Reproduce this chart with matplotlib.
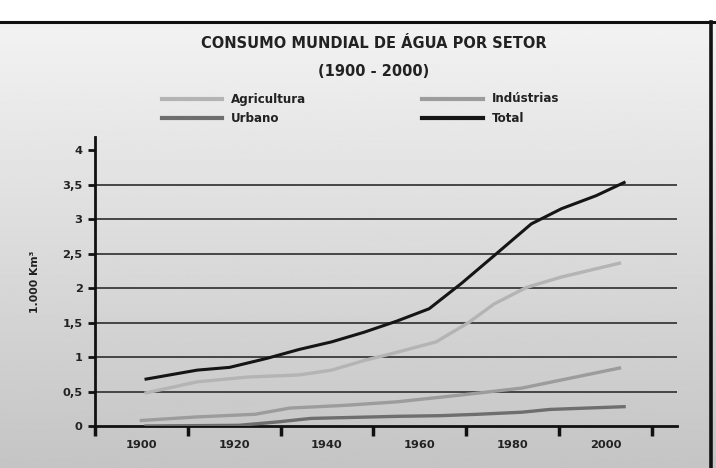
import numpy as np
import matplotlib
matplotlib.use("Agg")
import matplotlib.pyplot as plt
from matplotlib.lines import Line2D

# traced values (1.000 km3), x in years
agri_years = [1901, 1912, 1923, 1934, 1941, 1948, 1954, 1963.5, 1970.5, 1976, 1983, 1990.5, 2003]
agri_vals = [0.48, 0.64, 0.71, 0.74, 0.81, 0.95, 1.05, 1.22, 1.50, 1.77, 2.01, 2.16, 2.36]

ind_years = [1900, 1911.5, 1924.5, 1932, 1944, 1955, 1969, 1982, 2003]
ind_vals = [0.08, 0.13, 0.17, 0.26, 0.30, 0.35, 0.45, 0.55, 0.84]

urb_years = [1901, 1921, 1929.5, 1936.5, 1955, 1964.5, 1972.5, 1982, 1988, 2004]
urb_vals = [0.0, 0.01, 0.06, 0.11, 0.14, 0.15, 0.17, 0.20, 0.24, 0.28]

tot_years = [1901, 1912, 1919, 1927, 1934, 1941, 1948, 1955, 1962, 1969, 1976, 1984, 1990.5, 1998, 2004]
tot_vals = [0.68, 0.81, 0.85, 0.98, 1.11, 1.22, 1.36, 1.52, 1.70, 2.07, 2.47, 2.93, 3.15, 3.34, 3.53]

year_labels = [1900, 1920, 1940, 1960, 1980, 2000]
tick_years = [1890, 1910, 1930, 1950, 1970, 1990, 2010]
y_ticks = [0, 0.5, 1, 1.5, 2, 2.5, 3, 3.5, 4]
y_tick_labels = ["0", "0,5", "1", "1,5", "2", "2,5", "3", "3,5", "4"]
grid_vals = [0.5, 1, 1.5, 2, 2.5, 3, 3.5]

C_AGRI = "#b4b4b4"
C_IND = "#9c9c9c"
C_URB = "#6e6e6e"
C_TOT = "#151515"

plt.rcParams["font.family"] = ["DejaVu Sans"]

fig = plt.figure(figsize=(7.16, 4.68), dpi=100)
fig.patch.set_facecolor("white")

# background gradient panel below the top rule
bg = fig.add_axes([0, 0, 1, 1 - 22 / 468], zorder=-10)
grad = np.linspace(0.95, 0.77, 256).reshape(-1, 1)
bg.imshow(grad, cmap="gray", vmin=0, vmax=1, aspect="auto",
          extent=[0, 1, 0, 1])
bg.set_xlim(0, 1); bg.set_ylim(0, 1)
bg.axis("off")

# frame: top rule and right rule
fig.add_artist(Line2D([0, 1], [1 - 22 / 468] * 2, color="#111111", lw=2.2,
                      transform=fig.transFigure))
fig.add_artist(Line2D([711 / 716] * 2, [0, 1 - 22 / 468], color="#111111", lw=2.6,
                      transform=fig.transFigure))

ax = fig.add_axes([95 / 716, 1 - 426 / 468, (677 - 95) / 716, 289 / 468])
ax.patch.set_alpha(0)

for g in grid_vals:
    ax.axhline(g, color="#3a3a3a", lw=1.3, zorder=1)

ax.plot(agri_years, agri_vals, color=C_AGRI, lw=2.4, zorder=3)
ax.plot(ind_years, ind_vals, color=C_IND, lw=2.4, zorder=3)
ax.plot(urb_years, urb_vals, color=C_URB, lw=2.4, zorder=3)
ax.plot(tot_years, tot_vals, color=C_TOT, lw=2.2, zorder=4)

ax.set_xlim(1890, 2015.4)
ax.set_ylim(0, 4.19)

ax.set_xticks(tick_years)
ax.set_xticklabels([])
ax.set_xticks(year_labels, minor=True)
ax.set_xticklabels([str(y) for y in year_labels], minor=True,
                   fontsize=8.2, fontweight="bold", color="#222222")
ax.tick_params(axis="x", which="major", direction="out", length=7, width=2.5,
               color="#111111")
ax.tick_params(axis="x", which="minor", length=0, pad=10)

ax.set_yticks(y_ticks)
ax.set_yticklabels(y_tick_labels, fontsize=8.2, fontweight="bold", color="#222222")
ax.tick_params(axis="y", direction="out", length=5, width=2, color="#111111", pad=4)

for s in ["top", "right"]:
    ax.spines[s].set_visible(False)
for s in ["left", "bottom"]:
    ax.spines[s].set_color("#111111")
    ax.spines[s].set_linewidth(2)

ax.set_ylabel("1.000 Km³", fontsize=7.8, fontweight="bold", color="#222222",
              labelpad=16)

fig.text(374 / 716, 1 - 43 / 468, "CONSUMO MUNDIAL DE ÁGUA POR SETOR",
         ha="center", va="center", fontsize=10.5, fontweight="bold", color="#222222")
fig.text(374 / 716, 1 - 71 / 468, "(1900 - 2000)",
         ha="center", va="center", fontsize=10.5, fontweight="bold", color="#222222")

# legend drawn by hand in two columns
legend_items = [
    ("Agricultura", C_AGRI, 162, 222, 231, 99),
    ("Urbano", C_URB, 162, 222, 231, 118),
    ("Indústrias", C_IND, 422, 483, 492, 99),
    ("Total", C_TOT, 422, 483, 492, 118),
]
for name, col, x0, x1, xt, yy in legend_items:
    fig.add_artist(Line2D([x0 / 716, x1 / 716], [1 - yy / 468] * 2, color=col,
                          lw=3, transform=fig.transFigure))
    fig.text(xt / 716, 1 - yy / 468, name, ha="left", va="center",
             fontsize=8.6, fontweight="bold", color="#222222")

fig.savefig("out.png", dpi=100)
